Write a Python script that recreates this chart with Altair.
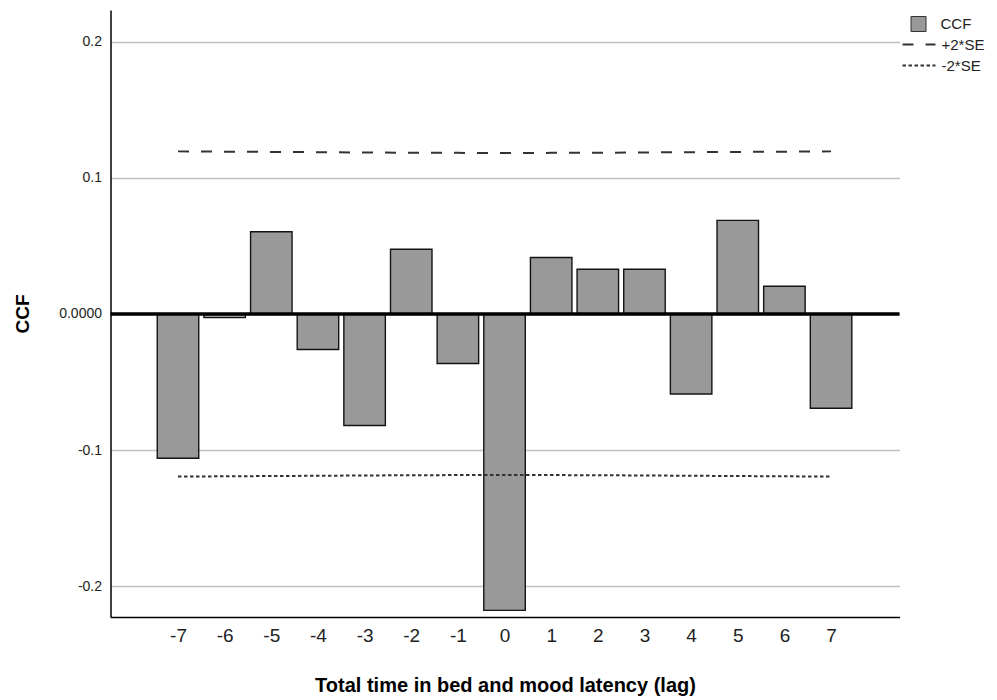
import altair as alt
import pandas as pd

# ---- data ----
lags = [-7, -6, -5, -4, -3, -2, -1, 0, 1, 2, 3, 4, 5, 6, 7]
x_tick_labels = ["-7", "-6", "-5", "-4", "-3", "-2", "-1", "0", "1", "2", "3", "4", "5", "6", "7"]
ccf = [-0.1060, -0.0027, 0.0604, -0.0261, -0.0820, 0.0476, -0.0364, -0.2178,
       0.0415, 0.0329, 0.0329, -0.0588, 0.0688, 0.0204, -0.0693]
upper_se = [0.1195, 0.1193, 0.1191, 0.1189, 0.1187, 0.1185, 0.1184, 0.1183,
            0.1184, 0.1185, 0.1187, 0.1189, 0.1191, 0.1193, 0.1195]
lower_se = [-0.1195, -0.1193, -0.1191, -0.1189, -0.1187, -0.1185, -0.1184, -0.1183,
            -0.1184, -0.1185, -0.1187, -0.1189, -0.1191, -0.1193, -0.1195]
y_tick_values = [-0.2, -0.1, 0.0, 0.1, 0.2]
y_tick_labels = ["-0.2", "-0.1", "0.0000", "0.1", "0.2"]
bar_name = "CCF"
line_names = ["+2*SE", "-2*SE"]
x_title = "Total time in bed and mood latency (lag)"
y_title = "CCF"

FONT = "Liberation Sans"

bars_df = pd.DataFrame({"lag": lags, "ccf": ccf, "s": [bar_name] * len(lags)})
lines_df = pd.concat([
    pd.DataFrame({"lag": lags, "v": upper_se, "series": [line_names[0]] * len(lags)}),
    pd.DataFrame({"lag": lags, "v": lower_se, "series": [line_names[1]] * len(lags)}),
], ignore_index=True)
zero_df = pd.DataFrame({"z": [0.0]})


def make_expr(values, labels):
    return " : ".join(
        f"abs(datum.value - ({v})) < 1e-9 ? '{l}'" for v, l in zip(values, labels)
    ) + " : ''"


x_label_expr = make_expr(lags, x_tick_labels)
y_label_expr = make_expr(y_tick_values, y_tick_labels)

x_scale = alt.Scale(domain=[-8.34, 8.36], nice=False, zero=False)
y_scale = alt.Scale(domain=[-0.2227, 0.2234], nice=False, zero=False)

x_axis = alt.Axis(
    values=lags, labelExpr=x_label_expr, grid=False, ticks=False, domain=True,
    domainColor="#000000", domainWidth=1.5, labelFontSize=19, labelFont=FONT,
    labelColor="#222222", labelPadding=9, labelAngle=0, title=x_title,
    titleFont=FONT, titleFontSize=20, titleFontWeight="bold", titleColor="#000000",
    titleY=68, titleBaseline="middle",
)
y_axis = alt.Axis(
    values=y_tick_values, labelExpr=y_label_expr, grid=True, gridColor="#c0c0c0",
    gridWidth=1.5, ticks=False, domain=True, domainColor="#000000", domainWidth=1.5,
    labelFontSize=14, labelFont=FONT, labelColor="#222222", labelPadding=9,
    title=y_title, titleFont=FONT, titleFontSize=19, titleFontWeight="bold",
    titleColor="#000000", titleX=-88, titleY=303.5, titleAngle=270,
    titleAlign="center", titleBaseline="middle",
)

bars = alt.Chart(bars_df).mark_bar(size=41.5, stroke="#141414", strokeWidth=1.4).encode(
    x=alt.X("lag:Q", scale=x_scale, axis=x_axis),
    y=alt.Y("ccf:Q", scale=y_scale, axis=y_axis),
    color=alt.Color(
        "s:N",
        scale=alt.Scale(domain=[bar_name], range=["#999999"]),
        legend=alt.Legend(
            title=None, orient="none", legendX=800, legendY=6, padding=0,
            symbolType="square", symbolSize=225, symbolStrokeColor="#333333",
            symbolStrokeWidth=1, symbolOpacity=1, labelFont=FONT, labelFontSize=15,
            labelColor="#222222", labelOffset=14,
        ),
    ),
)

lines = alt.Chart(lines_df).mark_line(color="#333333", strokeWidth=2).encode(
    x=alt.X("lag:Q", scale=x_scale, axis=x_axis),
    y=alt.Y("v:Q", scale=y_scale, axis=y_axis),
    strokeDash=alt.StrokeDash(
        "series:N",
        scale=alt.Scale(domain=line_names, range=[[11, 12], [3.5, 2.5]]),
        legend=alt.Legend(
            title=None, orient="none", legendX=791, legendY=27, padding=0,
            symbolType="stroke", symbolSize=1089, symbolStrokeColor="#333333",
            symbolStrokeWidth=2, labelFont=FONT, labelFontSize=15,
            labelColor="#222222", labelOffset=5, clipHeight=15, rowPadding=5,
        ),
    ),
)

zero_rule = alt.Chart(zero_df).mark_rule(color="#000000", strokeWidth=3.5).encode(
    y=alt.Y("z:Q", scale=y_scale, axis=y_axis),
)

chart = alt.layer(bars, lines, zero_rule).properties(
    width=789,
    height=607,
    padding={"left": 102.5, "top": 2, "right": 85, "bottom": 80},
    autosize=alt.AutoSizeParams(type="none"),
).configure(background="white").configure_view(stroke=None)

chart.save("out.html", embed_options={"renderer": "svg", "actions": False})
